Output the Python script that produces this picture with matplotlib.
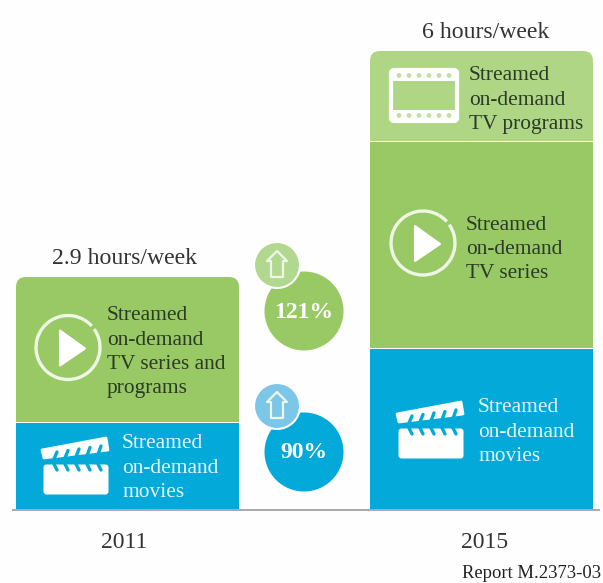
import numpy as np
import matplotlib
matplotlib.use("Agg")
import matplotlib.pyplot as plt
from matplotlib.patches import Circle, Polygon, FancyBboxPatch, Arc, Rectangle

plt.rcParams['font.family'] = ['Liberation Serif', 'DejaVu Serif']

# ---- data ----
years = ['2011', '2015']
movies = [1.14, 2.10]
series = [1.91, 2.71]
programs = [0.0, 1.19]
totals = ['2.9 hours/week', '6 hours/week']
growth_labels = ['121%', '90%']

GREEN, LIGHT, BLUE = '#98c964', '#aed685', '#02a9d9'
DARK = '#2c3a28'

W, H = 603, 583
fig = plt.figure(figsize=(W/100, H/100), dpi=100, facecolor='#fefefe')

# data axes: x in pixels across figure, y in hours with baseline at pixel 510
PX_PER_H = 76.5
ax = fig.add_axes([0, 0, 1, 1])
ax.set_xlim(0, W)
ax.set_ylim(-(H-510)/PX_PER_H, 510/PX_PER_H)
ax.axis('off')
xpos = [127.5, 481.5]
bw = 223
gap = 1/PX_PER_H

# overlay in image pixels
ov = fig.add_axes([0, 0, 1, 1], zorder=3)
ov.set_xlim(0, W)
ov.set_ylim(H, 0)
ov.axis('off')
ov.patch.set_alpha(0)

def rounded_clip(x0, x1, ytop):
    p = FancyBboxPatch((x0+10, ytop+10), x1-x0-20, 600, boxstyle='round,pad=10,rounding_size=10',
                       transform=ov.transData, fc='none', ec='none')
    ov.add_patch(p)
    return p

b1 = ax.bar(xpos, movies, bw, color=BLUE, linewidth=0)
b2 = ax.bar(xpos, np.array(series)-gap, bw, bottom=np.array(movies)+gap, color=GREEN, linewidth=0)
b3 = ax.bar(xpos[1:], [programs[1]-gap], bw, bottom=[movies[1]+series[1]+gap], color=LIGHT, linewidth=0)
b2[0].set_clip_path(rounded_clip(16, 239, 277))
b3[0].set_clip_path(rounded_clip(370, 593, 51))
ax.plot([12, 600], [0, 0], color='#a9a9a9', lw=1.4, solid_capstyle='butt')

FS = 15.4
def label(x, y, lines, color=DARK, step=24.3):
    for i, s in enumerate(lines):
        ov.text(x, y+2+i*step, s, fontsize=FS, color=color, va='center', ha='left')

label(107, 314, ['Streamed', 'on-demand', 'TV series and', 'programs'])
label(122, 442, ['Streamed', 'on-demand', 'movies'], color='#e6f6fb')
label(469, 74, ['Streamed', 'on-demand', 'TV programs'])
label(466, 223, ['Streamed', 'on-demand', 'TV series'])
label(478, 406, ['Streamed', 'on-demand', 'movies'], color='#e6f6fb')

ov.text(125, 259, totals[0], fontsize=17.1, color='#333333', ha='center', va='center')
ov.text(485.5, 33, totals[1], fontsize=17.1, color='#333333', ha='center', va='center')
ov.text(124.5, 543, years[0], fontsize=17, color='#333333', ha='center', va='center')
ov.text(485, 543, years[1], fontsize=17, color='#333333', ha='center', va='center')
ov.text(532, 574, 'Report M.2373-03', fontsize=13.4, color='#222222', ha='center', va='center')

def play(cx, cy, r=32):
    ring = '#eef7e6'
    ov.add_patch(Arc((cx, cy), 2*r, 2*r, theta1=-35, theta2=300, color=ring, lw=2.4))
    ov.add_patch(Arc((cx, cy), 2*r, 2*r, theta1=-60, theta2=-42, color=ring, lw=2.4))
    ov.add_patch(Polygon([(cx-8, cy-17), (cx-8, cy+18), (cx+17, cy+1)], closed=True, fc='white', ec='white', lw=1.5, joinstyle='round'))

def clapper(x0, y0):
    # x0, y0: top-left of the body
    ov.add_patch(FancyBboxPatch((x0+2, y0+2), 62, 27, boxstyle='round,pad=1.5,rounding_size=3', fc='white', ec='none'))
    ov.add_patch(Polygon([(x0-1, y0-14), (x0+63, y0-26), (x0+65, y0-14), (x0+1, y0-6)], closed=True,
                         fc='white', ec='white', lw=2, joinstyle='round'))
    for i in range(5):
        xa = x0+11+i*11
        ov.plot([xa, xa+3], [y0-5-i*1.1, y0-12-i*1.5], color=BLUE, lw=2.4, solid_capstyle='round')
        ov.plot([xa-1, xa+3], [y0-2, y0+6], color=BLUE, lw=2.4, solid_capstyle='round')

def film(x0, y0, w, h):
    ov.add_patch(FancyBboxPatch((x0, y0), w, h, boxstyle='round,pad=0,rounding_size=3', fc='none', ec='white', lw=3))
    for yy, hh in ((y0, 11), (y0+h-11, 11)):
        ov.add_patch(Rectangle((x0, yy), w, hh, fc='white', ec='none'))
    for yy in (y0+5.5, y0+h-5.5):
        for i in range(6):
            ov.add_patch(Circle((x0+8+i*(w-16)/5, yy), 2.4, fc='#c2dfa4', ec='none'))

def bubble(cx, cy, color, soft, txt):
    ov.add_patch(Circle((cx, cy), 39.5, fc=color, ec='none'))
    sx, sy = cx-27, cy-46
    ov.add_patch(Circle((sx, sy), 23, fc=soft, ec='white', lw=1.5))
    house = [(sx, sy-14), (sx+10, sy-4), (sx+6, sy-4), (sx+6, sy+12), (sx-6, sy+12), (sx-6, sy-4), (sx-10, sy-4)]
    ov.add_patch(Polygon(house, closed=True, fc='none', ec='#eef7e6', lw=1.6, joinstyle='round'))
    ov.text(cx, cy+1, txt, color='white', fontsize=17, fontweight='bold', ha='center', va='center')

play(68, 347.5)
play(423, 243)
clapper(43, 464)
clapper(398, 428)
film(391, 70, 66, 51)
bubble(304, 311, GREEN, '#b2d88f', growth_labels[0])
bubble(304, 452, BLUE, '#7cc6e7', growth_labels[1])

fig.savefig('out.png', dpi=100, facecolor=fig.get_facecolor())
